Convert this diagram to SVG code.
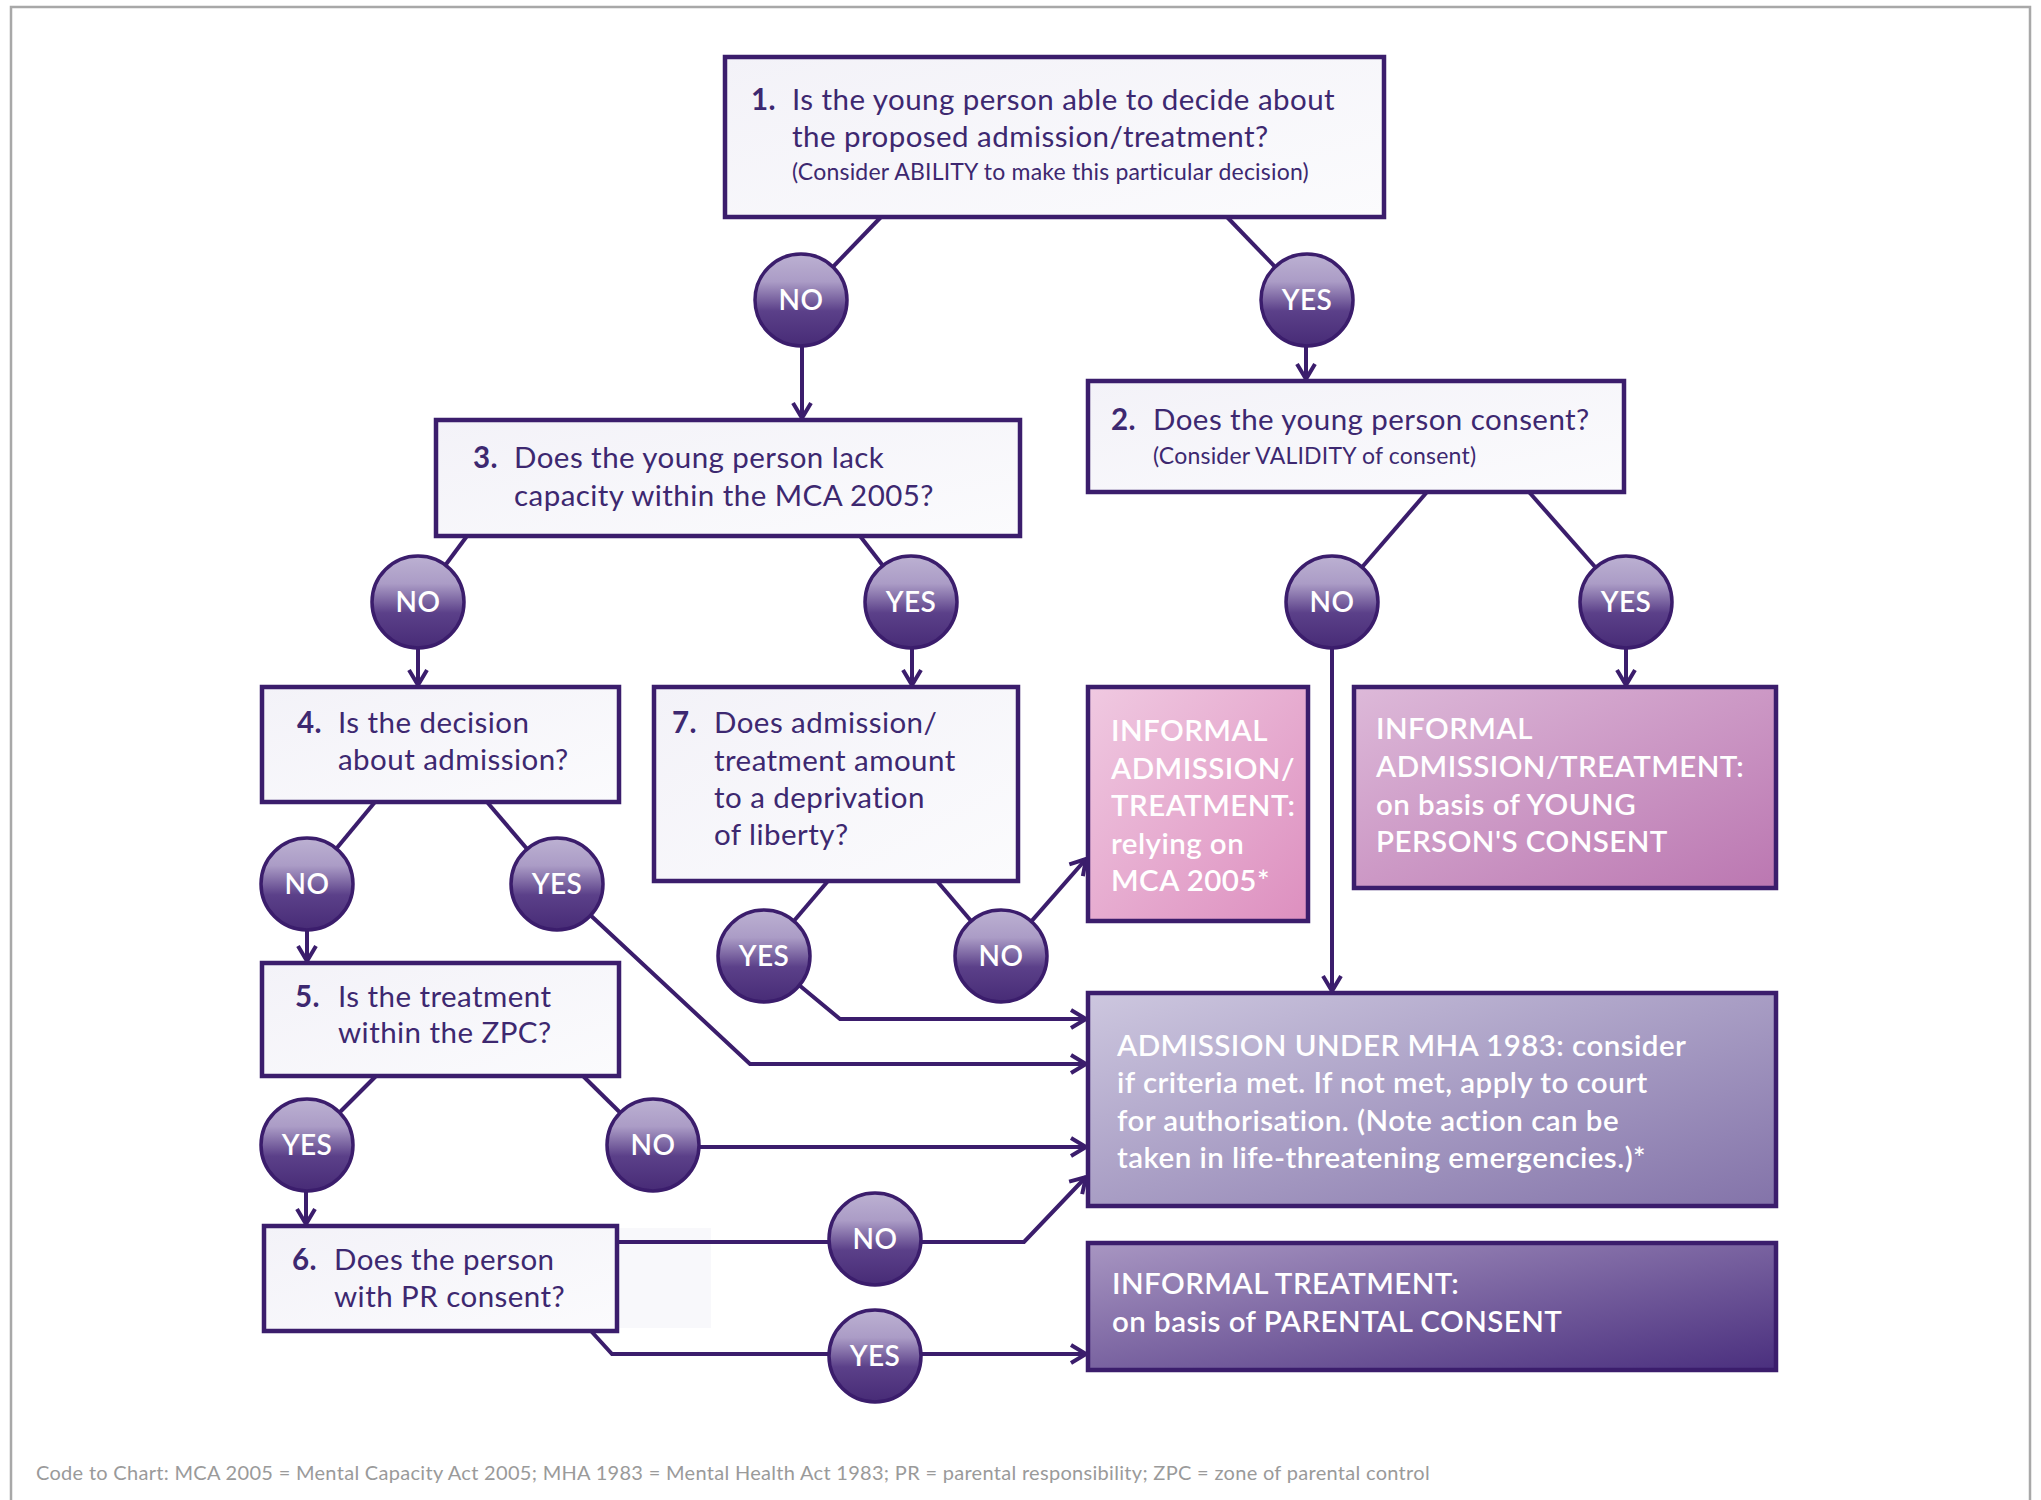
<svg xmlns="http://www.w3.org/2000/svg" width="2041" height="1500" viewBox="0 0 2041 1500">
<style>
.frame{fill:none;stroke:#a8a8a8;stroke-width:2.5}
.q{fill:url(#gq);stroke:#3b1d6c;stroke-width:4.5}
.qt{font-family:Lato,"Liberation Sans",sans-serif;font-size:29.5px;letter-spacing:0.45px;fill:#3d2870}
.qs{font-size:23px;letter-spacing:0.2px}
.num{font-weight:bold}
.wt{font-family:Lato,"Liberation Sans",sans-serif;font-size:29.5px;letter-spacing:0.45px;fill:#ffffff;font-weight:600}
.circ{fill:url(#gc);stroke:#3b1d6c;stroke-width:3.5}
.cl{font-family:Lato,"Liberation Sans",sans-serif;font-size:28px;letter-spacing:0.4px;fill:#ffffff;font-weight:600;text-anchor:middle}
.ln{fill:none;stroke:#3b1d6c;stroke-width:4}
.ar{marker-end:url(#arr)}
.foot{font-family:Lato,"Liberation Sans",sans-serif;font-size:20px;letter-spacing:0.3px;fill:#9a9a9a}
</style>
<defs>
<linearGradient id="gq" x1="0" y1="0" x2="1" y2="1"><stop offset="0" stop-color="#f3f2f8"/><stop offset="1" stop-color="#fbfbfd"/></linearGradient>
<linearGradient id="gc" x1="0" y1="0" x2="0" y2="1"><stop offset="0" stop-color="#bcb1d2"/><stop offset="0.3" stop-color="#ab9cc6"/><stop offset="0.62" stop-color="#5b4089"/><stop offset="1" stop-color="#472b76"/></linearGradient>
<linearGradient id="gp1" x1="0" y1="0" x2="1" y2="1"><stop offset="0" stop-color="#f0c9e1"/><stop offset="1" stop-color="#dd8fbf"/></linearGradient>
<linearGradient id="gp2" x1="0" y1="0" x2="1" y2="1"><stop offset="0" stop-color="#ddb9d9"/><stop offset="1" stop-color="#bb77b1"/></linearGradient>
<linearGradient id="gm" x1="0" y1="0" x2="1" y2="1"><stop offset="0" stop-color="#cdc7df"/><stop offset="1" stop-color="#8373a9"/></linearGradient>
<linearGradient id="gi" x1="0" y1="0" x2="1" y2="1"><stop offset="0" stop-color="#a896c2"/><stop offset="1" stop-color="#4a2f7e"/></linearGradient>
<marker id="arr" markerUnits="userSpaceOnUse" markerWidth="40" markerHeight="40" viewBox="-20 -20 40 40" refX="0" refY="0" orient="auto" overflow="visible">
<path d="M-15,-9 L0,0 L-15,9" fill="none" stroke="#3b1d6c" stroke-width="4"/>
</marker>
</defs>
<rect width="2041" height="1500" fill="#ffffff"/>
<path class="frame" d="M11,1510 L11,7 L2030,7 L2030,1510"/>
<rect x="617" y="1228" width="94" height="100" fill="#f8f8fb"/>

<g id="connectors">
<path class="ln" d="M881,217 L801,300"/>
<path class="ln" d="M1227,217 L1307,300"/>
<path class="ln ar" d="M802,346 L802,418"/>
<path class="ln ar" d="M1306,346 L1306,379"/>
<path class="ln" d="M467,536 L418,602"/>
<path class="ln" d="M860,536 L911,602"/>
<path class="ln ar" d="M418,648 L418,685"/>
<path class="ln ar" d="M912,648 L912,685"/>
<path class="ln" d="M1427,492 L1332,602"/>
<path class="ln" d="M1529,492 L1626,602"/>
<path class="ln ar" d="M1332,648 L1332,991"/>
<path class="ln ar" d="M1626,648 L1626,685"/>
<path class="ln" d="M375,802 L307,884"/>
<path class="ln" d="M487,802 L557,884"/>
<path class="ln ar" d="M307,930 L307,961"/>
<path class="ln ar" d="M557,884 L750,1064 L1086,1064"/>
<path class="ln" d="M828,881 L764,956"/>
<path class="ln" d="M937,881 L1001,956"/>
<path class="ln ar" d="M1001,956 L1086,859"/>
<path class="ln ar" d="M764,956 L840,1019 L1086,1019"/>
<path class="ln" d="M376,1076 L307,1145"/>
<path class="ln" d="M583,1076 L653,1145"/>
<path class="ln ar" d="M653,1147 L1086,1147"/>
<path class="ln ar" d="M306,1191 L306,1224"/>
<path class="ln ar" d="M617,1242 L1024,1242 L1086,1177"/>
<path class="ln ar" d="M591,1331 L612,1354 L1086,1354"/>
</g>

<g id="q1">
<rect class="q" x="725" y="57" width="659" height="160"/>
<text class="qt num" x="751" y="110">1.</text>
<text class="qt" x="792" y="110">Is the young person able to decide about</text>
<text class="qt" x="792" y="147">the proposed admission/treatment?</text>
<text class="qt qs" x="792" y="180">(Consider ABILITY to make this particular decision)</text>
</g>
<g id="q2">
<rect class="q" x="1088" y="381" width="536" height="111"/>
<text class="qt num" x="1111" y="430">2.</text>
<text class="qt" x="1153" y="430">Does the young person consent?</text>
<text class="qt qs" x="1153" y="464">(Consider VALIDITY of consent)</text>
</g>
<g id="q3">
<rect class="q" x="436" y="420" width="584" height="116"/>
<text class="qt num" x="473" y="468">3.</text>
<text class="qt" x="514" y="468">Does the young person lack</text>
<text class="qt" x="514" y="506">capacity within the MCA 2005?</text>
</g>
<g id="q4">
<rect class="q" x="262" y="687" width="357" height="115"/>
<text class="qt num" x="297" y="733">4.</text>
<text class="qt" x="338" y="733">Is the decision</text>
<text class="qt" x="338" y="770">about admission?</text>
</g>
<g id="q7">
<rect class="q" x="654" y="687" width="364" height="194"/>
<text class="qt num" x="672" y="733">7.</text>
<text class="qt" x="714" y="733">Does admission/</text>
<text class="qt" x="714" y="771">treatment amount</text>
<text class="qt" x="714" y="808">to a deprivation</text>
<text class="qt" x="714" y="845">of liberty?</text>
</g>
<g id="q5">
<rect class="q" x="262" y="963" width="357" height="113"/>
<text class="qt num" x="295" y="1007">5.</text>
<text class="qt" x="338" y="1007">Is the treatment</text>
<text class="qt" x="338" y="1043">within the ZPC?</text>
</g>
<g id="q6">
<rect class="q" x="264" y="1226" width="353" height="105"/>
<text class="qt num" x="292" y="1270">6.</text>
<text class="qt" x="334" y="1270">Does the person</text>
<text class="qt" x="334" y="1307">with PR consent?</text>
</g>

<g id="r-mca">
<rect x="1088" y="687" width="220" height="234" fill="url(#gp1)" stroke="#3b1d6c" stroke-width="4.5"/>
<text class="wt" x="1111" y="741">INFORMAL</text>
<text class="wt" x="1111" y="779">ADMISSION/</text>
<text class="wt" x="1111" y="816">TREATMENT:</text>
<text class="wt" x="1111" y="854">relying on</text>
<text class="wt" x="1111" y="891">MCA 2005*</text>
</g>
<g id="r-yp">
<rect x="1354" y="687" width="422" height="201" fill="url(#gp2)" stroke="#3b1d6c" stroke-width="4.5"/>
<text class="wt" x="1376" y="739">INFORMAL</text>
<text class="wt" x="1376" y="777">ADMISSION/TREATMENT:</text>
<text class="wt" x="1376" y="815">on basis of YOUNG</text>
<text class="wt" x="1376" y="852">PERSON'S CONSENT</text>
</g>
<g id="r-mha">
<rect x="1088" y="993" width="688" height="213" fill="url(#gm)" stroke="#3b1d6c" stroke-width="4.5"/>
<text class="wt" x="1117" y="1056">ADMISSION UNDER MHA 1983: consider</text>
<text class="wt" x="1117" y="1093">if criteria met. If not met, apply to court</text>
<text class="wt" x="1117" y="1131">for authorisation. (Note action can be</text>
<text class="wt" x="1117" y="1168">taken in life-threatening emergencies.)*</text>
</g>
<g id="r-it">
<rect x="1088" y="1243" width="688" height="127" fill="url(#gi)" stroke="#3b1d6c" stroke-width="4.5"/>
<text class="wt" x="1112" y="1294">INFORMAL TREATMENT:</text>
<text class="wt" x="1112" y="1332">on basis of PARENTAL CONSENT</text>
</g>

<g id="c1n"><circle class="circ" cx="801" cy="300" r="46"/><text class="cl" x="801" y="310">NO</text></g>
<g id="c1y"><circle class="circ" cx="1307" cy="300" r="46"/><text class="cl" x="1307" y="310">YES</text></g>
<g id="c3n"><circle class="circ" cx="418" cy="602" r="46"/><text class="cl" x="418" y="612">NO</text></g>
<g id="c3y"><circle class="circ" cx="911" cy="602" r="46"/><text class="cl" x="911" y="612">YES</text></g>
<g id="c2n"><circle class="circ" cx="1332" cy="602" r="46"/><text class="cl" x="1332" y="612">NO</text></g>
<g id="c2y"><circle class="circ" cx="1626" cy="602" r="46"/><text class="cl" x="1626" y="612">YES</text></g>
<g id="c4n"><circle class="circ" cx="307" cy="884" r="46"/><text class="cl" x="307" y="894">NO</text></g>
<g id="c4y"><circle class="circ" cx="557" cy="884" r="46"/><text class="cl" x="557" y="894">YES</text></g>
<g id="c7y"><circle class="circ" cx="764" cy="956" r="46"/><text class="cl" x="764" y="966">YES</text></g>
<g id="c7n"><circle class="circ" cx="1001" cy="956" r="46"/><text class="cl" x="1001" y="966">NO</text></g>
<g id="c5y"><circle class="circ" cx="307" cy="1145" r="46"/><text class="cl" x="307" y="1155">YES</text></g>
<g id="c5n"><circle class="circ" cx="653" cy="1145" r="46"/><text class="cl" x="653" y="1155">NO</text></g>
<g id="c6n"><circle class="circ" cx="875" cy="1239" r="46"/><text class="cl" x="875" y="1249">NO</text></g>
<g id="c6y"><circle class="circ" cx="875" cy="1356" r="46"/><text class="cl" x="875" y="1366">YES</text></g>

<text class="foot" x="36" y="1480">Code to Chart: MCA 2005 = Mental Capacity Act 2005; MHA 1983 = Mental Health Act 1983; PR = parental responsibility; ZPC = zone of parental control</text>
</svg>
